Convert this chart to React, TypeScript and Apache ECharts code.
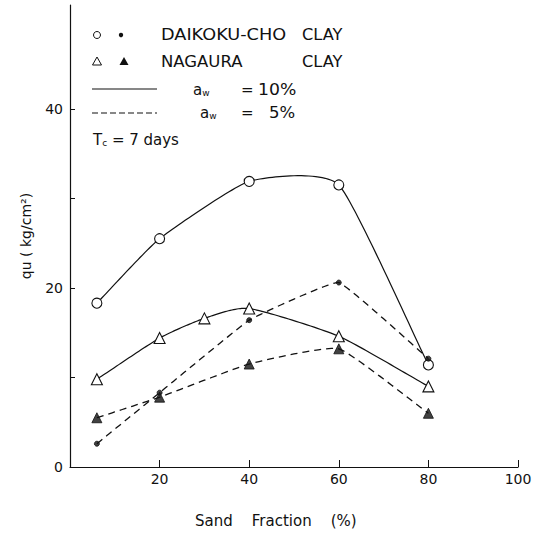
import React, { useEffect, useRef } from "react";
import * as echarts from "echarts";

const sandFraction = [6, 20, 40, 60, 80];
const nagauraX10 = [6, 20, 30, 40, 60, 80];
const daikoku10 = [18.3, 25.5, 31.9, 31.5, 11.4];
const daikoku5 = [2.6, 8.3, 16.4, 20.6, 12.1];
const nagaura10 = [9.8, 14.4, 16.6, 17.7, 14.6, 9.0];
const nagaura5 = [5.5, 7.8, 11.5, 13.2, 6.0];
const xTicks = [20, 40, 60, 80, 100];
const yTicks = [0, 10, 20, 30, 40];
const yLabels = [0, 20, 40];

const FONT = "DejaVu Sans";
const BLACK = "#111";

function pairs(xs: number[], ys: number[]) {
  return xs.map((x, i) => [x, ys[i]]);
}

// cardinal spline through pixel points, sampled for drawing
function cardinal(pts: number[][], tension: number) {
  const n = pts.length;
  const k = 1 - tension;
  const tang = pts.map((p, i) => {
    if (i === 0) return [(pts[1][0] - p[0]) * k, (pts[1][1] - p[1]) * k];
    if (i === n - 1) return [(p[0] - pts[n - 2][0]) * k, (p[1] - pts[n - 2][1]) * k];
    return [((pts[i + 1][0] - pts[i - 1][0]) / 2) * k, ((pts[i + 1][1] - pts[i - 1][1]) / 2) * k];
  });
  const out: number[][] = [];
  const steps = 30;
  for (let i = 0; i < n - 1; i++) {
    const p0 = pts[i], p1 = pts[i + 1], m0 = tang[i], m1 = tang[i + 1];
    for (let s = 0; s <= steps; s++) {
      if (i > 0 && s === 0) continue;
      const t = s / steps;
      const t2 = t * t, t3 = t2 * t;
      const h00 = 2 * t3 - 3 * t2 + 1;
      const h10 = t3 - 2 * t2 + t;
      const h01 = -2 * t3 + 3 * t2;
      const h11 = t3 - t2;
      out.push([
        h00 * p0[0] + h10 * m0[0] + h01 * p1[0] + h11 * m1[0],
        h00 * p0[1] + h10 * m0[1] + h01 * p1[1] + h11 * m1[1],
      ]);
    }
  }
  return out;
}

function curveSeries(xs: number[], ys: number[], tension: number, dashed: boolean) {
  return {
    type: "custom",
    data: pairs(xs, ys),
    encode: { x: 0, y: 1 },
    silent: true,
    z: 2,
    renderItem: (params: any, api: any) => {
      if (params.dataIndex !== 0) return null;
      const pts = xs.map((x, i) => api.coord([x, ys[i]]));
      return {
        type: "polyline",
        shape: { points: cardinal(pts, tension) },
        style: {
          stroke: BLACK,
          fill: null,
          lineWidth: dashed ? 1.3 : 1.2,
          lineDash: dashed ? [7, 5] : null,
        },
      };
    },
  };
}

function markerSeries(xs: number[], ys: number[], symbol: string, size: number, filled: boolean) {
  return {
    type: "scatter",
    data: pairs(xs, ys),
    symbol,
    symbolSize: size,
    z: 4,
    itemStyle: filled
      ? { color: BLACK, borderColor: BLACK, borderWidth: 1 }
      : { color: "#fff", borderColor: BLACK, borderWidth: 1.1, opacity: 1 },
  };
}

export default function App() {
  const ref = useRef<HTMLDivElement>(null);
  useEffect(() => {
    if (!ref.current) return;
    const chart = echarts.init(ref.current, null, { renderer: "svg" });
    const txt = (x: number, y: number, text: string, scaleX = 1, size = 15) => ({
      type: "text",
      x,
      y,
      scaleX,
      style: { text, fill: BLACK, font: `${size}px "${FONT}"`, textVerticalAlign: "middle" },
    });
    const subText = (x: number, y: number, main: string, sub: string, rest: string) => ({
      type: "text",
      x,
      y,
      style: {
        text: `{a|${main}}{w|${sub}}` + (rest ? `{a|${rest}}` : ""),
        fill: BLACK,
        textVerticalAlign: "middle",
        rich: {
          a: { fontSize: 15, fontFamily: FONT, fill: BLACK },
          w: { fontSize: 9, fontFamily: FONT, fill: BLACK, padding: [5, 0, 0, 0] },
        },
      },
    });
    chart.setOption({
      animation: false,
      backgroundColor: "#fff",
      grid: { left: 70, right: 18, top: 5, bottom: 69 },
      xAxis: {
        type: "value",
        min: 0,
        max: 100,
        interval: 20,
        axisLine: { lineStyle: { color: BLACK, width: 1.2 } },
        axisTick: { inside: true, length: 7, lineStyle: { color: BLACK }, customValues: xTicks },
        axisLabel: { customValues: xTicks, color: BLACK, fontSize: 14, fontFamily: FONT, margin: 5 },
        splitLine: { show: false },
      },
      yAxis: {
        type: "value",
        min: 0,
        max: 51.6,
        interval: 10,
        axisLine: { show: true, lineStyle: { color: BLACK, width: 1.2 } },
        axisTick: { show: true, inside: true, length: 5, lineStyle: { color: BLACK }, customValues: yTicks },
        axisLabel: { customValues: yLabels, color: BLACK, fontSize: 14, fontFamily: FONT, margin: 7 },
        splitLine: { show: false },
        name: "qu ( kg/cm²)",
        nameLocation: "middle",
        nameGap: 37,
        nameRotate: 90,
        nameTextStyle: { color: BLACK, fontSize: 14, fontFamily: FONT },
      },
      series: [
        curveSeries(sandFraction, daikoku10, 0.5, false),
        curveSeries(sandFraction, daikoku5, 0.75, true),
        curveSeries(nagauraX10, nagaura10, 0.4, false),
        curveSeries(sandFraction, nagaura5, 0.6, true),
        markerSeries(sandFraction, daikoku10, "circle", 10, false),
        markerSeries(sandFraction, daikoku5, "circle", 5, true),
        markerSeries(nagauraX10, nagaura10, "triangle", 11, false),
        markerSeries(sandFraction, nagaura5, "triangle", 10, true),
      ],
      graphic: [
        { type: "circle", shape: { cx: 97, cy: 35, r: 3.5 }, style: { fill: "#fff", stroke: BLACK, lineWidth: 1 } },
        { type: "circle", shape: { cx: 121, cy: 35, r: 2.2 }, style: { fill: BLACK } },
        { type: "polygon", shape: { points: [[97, 57], [92.5, 65], [101.5, 65]] }, style: { fill: "#fff", stroke: BLACK, lineWidth: 1 } },
        { type: "polygon", shape: { points: [[124, 57], [119.5, 65], [128.5, 65]] }, style: { fill: BLACK } },
        { type: "line", shape: { x1: 92, y1: 89, x2: 157, y2: 89 }, style: { stroke: BLACK, lineWidth: 1.2 } },
        { type: "line", shape: { x1: 92, y1: 113, x2: 157, y2: 113 }, style: { stroke: BLACK, lineWidth: 1.2, lineDash: [6, 3] } },
        txt(161, 35, "DAIKOKU-CHO", 1.18),
        txt(302, 35, "CLAY", 1.08),
        txt(161, 62, "NAGAURA", 1.1),
        txt(302, 62, "CLAY", 1.08),
        subText(193, 90, "a", "w", ""),
        txt(241, 90, "="),
        txt(258, 90, "10%", 1.15),
        subText(200, 113, "a", "w", ""),
        txt(241, 113, "="),
        txt(269, 113, "5%", 1.1),
        subText(93, 140, "T", "c", " = 7 days"),
        {
          type: "text",
          x: 195,
          y: 521,
          style: { text: "Sand    Fraction    (%)", fill: BLACK, font: `15px "${FONT}"`, textVerticalAlign: "middle" },
        },
      ],
    });
    return () => chart.dispose();
  }, []);
  return <div ref={ref} style={{ width: 536, height: 536, position: "absolute", left: 0, top: 0 }} />;
}
